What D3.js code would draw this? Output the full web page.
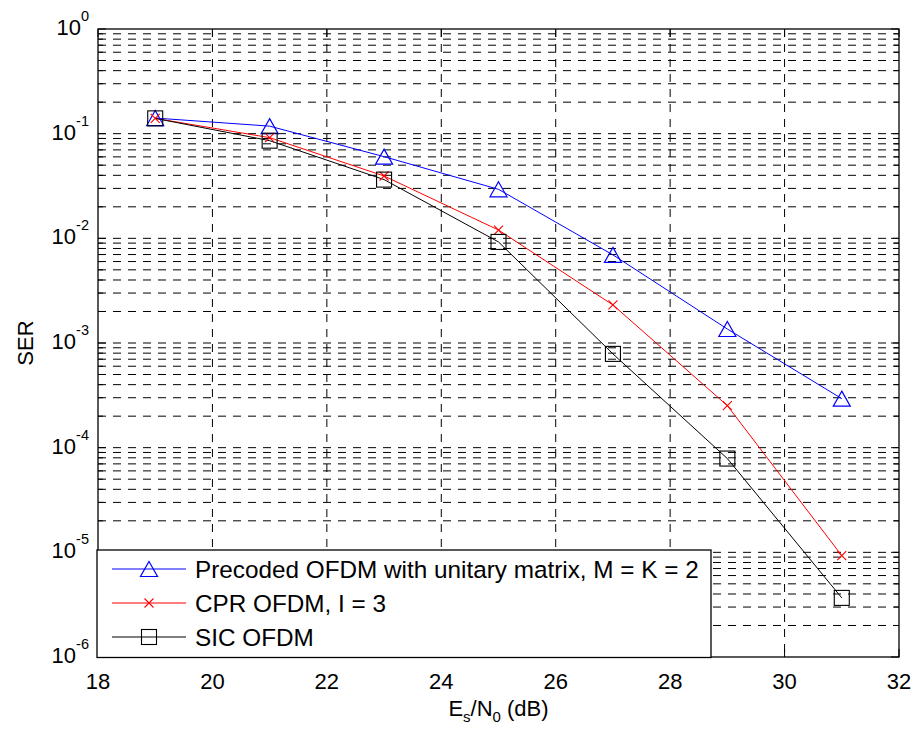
<!DOCTYPE html>
<html>
<head>
<meta charset="utf-8">
<script src="https://cdn.jsdelivr.net/npm/d3@7"></script>
<style>
  html, body { margin: 0; padding: 0; background: #fff; }
  svg { display: block; }
  text { font-family: "Liberation Sans", Arial, Helvetica, sans-serif; fill: #000; }
</style>
</head>
<body>
<svg id="chart" width="915" height="733"></svg>
<script>
// ---- data ----
const esn0 = [19, 21, 23, 25, 27, 29, 31];
const serPrecoded = [0.141, 0.118, 0.0603, 0.0294, 0.00695, 0.00136, 0.000294];
const serCPR = [0.140, 0.0916, 0.0394, 0.0120, 0.00231, 0.000252, 9.3e-6];
const serSIC = [0.140, 0.0857, 0.0364, 0.00924, 0.000787, 7.87e-5, 3.67e-6];
const seriesNames = ["Precoded OFDM with unitary matrix, M = K = 2", "CPR OFDM, I = 3", "SIC OFDM"];
const xTicks = [18, 20, 22, 24, 26, 28, 30, 32];
const yExponents = [0, -1, -2, -3, -4, -5, -6];

// ---- layout ----
const L = 98, R = 899, T = 29, B = 657;
const svg = d3.select("#chart");
const x = d3.scaleLinear().domain([18, 32]).range([L, R]);
const y = d3.scaleLog().domain([1e-6, 1]).range([B, T]);

const series = [
  { name: seriesNames[0], values: serPrecoded, color: "#0000ff", marker: "tri" },
  { name: seriesNames[1], values: serCPR, color: "#ff0000", marker: "x" },
  { name: seriesNames[2], values: serSIC, color: "#000000", marker: "sq" }
];

const yMajor = yExponents.map(e => Math.pow(10, e));
const yMinor = [];
for (let e = -6; e < 0; e++) for (let k = 2; k <= 9; k++) yMinor.push(k * Math.pow(10, e));

const dash = "8,7";
const grid = svg.append("g");
grid.selectAll("line.h").data(yMinor.concat(yMajor.filter(v => v > 1e-6 && v < 1)))
  .enter().append("line")
  .attr("x1", L).attr("x2", R)
  .attr("y1", d => y(d)).attr("y2", d => y(d))
  .attr("stroke", "#000").attr("stroke-width", 1)
  .attr("stroke-dasharray", dash);
grid.selectAll("line.v").data(xTicks.filter(v => v > 18 && v < 32))
  .enter().append("line")
  .attr("x1", d => x(d)).attr("x2", d => x(d))
  .attr("y1", T).attr("y2", B)
  .attr("stroke", "#000").attr("stroke-width", 1)
  .attr("stroke-dasharray", dash);

function drawMarker(g, type, cx, cy, color) {
  if (type === "tri") {
    const w = 8.5, h = 7.5;
    g.append("path")
      .attr("d", `M${cx},${cy - h}L${cx + w},${cy + h}L${cx - w},${cy + h}Z`)
      .attr("fill", "none").attr("stroke", color).attr("stroke-width", 1.2);
  } else if (type === "sq") {
    const s = 7.5;
    g.append("rect").attr("x", cx - s).attr("y", cy - s)
      .attr("width", 2 * s).attr("height", 2 * s)
      .attr("fill", "none").attr("stroke", color).attr("stroke-width", 1.1);
  } else {
    const s = 4.5;
    g.append("path")
      .attr("d", `M${cx - s},${cy - s}L${cx + s},${cy + s}M${cx - s},${cy + s}L${cx + s},${cy - s}`)
      .attr("stroke", color).attr("stroke-width", 1.1);
  }
}

const line = d3.line().x(d => x(d[0])).y(d => y(d[1]));
const plot = svg.append("g");
series.forEach(s => {
  const pts = esn0.map((v, i) => [v, s.values[i]]);
  plot.append("path").datum(pts).attr("d", line)
    .attr("fill", "none").attr("stroke", s.color).attr("stroke-width", 1);
});
series.forEach(s => {
  esn0.forEach((v, i) => drawMarker(plot, s.marker, x(v), y(s.values[i]), s.color));
});

const ax = svg.append("g");
ax.append("rect").attr("x", L).attr("y", T).attr("width", R - L).attr("height", B - T)
  .attr("fill", "none").attr("stroke", "#000").attr("stroke-width", 1.3);

const majLen = 8, minLen = 5;
yMajor.forEach(v => {
  ax.append("line").attr("x1", L).attr("x2", L + majLen).attr("y1", y(v)).attr("y2", y(v)).attr("stroke", "#000");
  ax.append("line").attr("x1", R).attr("x2", R - majLen).attr("y1", y(v)).attr("y2", y(v)).attr("stroke", "#000");
});
yMinor.forEach(v => {
  ax.append("line").attr("x1", L).attr("x2", L + minLen).attr("y1", y(v)).attr("y2", y(v)).attr("stroke", "#000");
  ax.append("line").attr("x1", R).attr("x2", R - minLen).attr("y1", y(v)).attr("y2", y(v)).attr("stroke", "#000");
});
xTicks.forEach(v => {
  ax.append("line").attr("x1", x(v)).attr("x2", x(v)).attr("y1", B).attr("y2", B - majLen).attr("stroke", "#000");
  ax.append("line").attr("x1", x(v)).attr("x2", x(v)).attr("y1", T).attr("y2", T + majLen).attr("stroke", "#000");
});

xTicks.forEach(v => {
  ax.append("text").attr("x", x(v)).attr("y", 689).attr("text-anchor", "middle")
    .attr("font-size", 22).text(v);
});
yExponents.forEach(e => {
  const t = ax.append("text").attr("x", 89).attr("y", y(Math.pow(10, e)) + 6)
    .attr("text-anchor", "end").attr("font-size", 22);
  t.append("tspan").text("10");
  t.append("tspan").attr("dy", -14).attr("font-size", 14.5).text(e === 0 ? "0" : "-" + Math.abs(e));
});

const xl = svg.append("text").attr("x", (L + R) / 2).attr("y", 716)
  .attr("text-anchor", "middle").attr("font-size", 22);
xl.append("tspan").text("E");
xl.append("tspan").attr("dy", 6).attr("font-size", 15).text("s");
xl.append("tspan").attr("dy", -6).text("/N");
xl.append("tspan").attr("dy", 6).attr("font-size", 15).text("0");
xl.append("tspan").attr("dy", -6).text(" (dB)");

svg.append("text").attr("transform", `translate(33,${(T + B) / 2}) rotate(-90)`)
  .attr("text-anchor", "middle").attr("font-size", 22).text("SER");

const lg = svg.append("g");
lg.append("rect").attr("x", 97).attr("y", 550).attr("width", 614).attr("height", 107.5)
  .attr("fill", "#fff").attr("stroke", "#000").attr("stroke-width", 1.3);
const rowY = [569, 603, 637];
series.forEach((s, i) => {
  lg.append("line").attr("x1", 112).attr("x2", 186).attr("y1", rowY[i]).attr("y2", rowY[i])
    .attr("stroke", s.color).attr("stroke-width", 1);
  drawMarker(lg, s.marker, 149, rowY[i], s.color);
  lg.append("text").attr("x", 195).attr("y", rowY[i] + 8.5).attr("font-size", 24.3).text(s.name);
});
</script>
</body>
</html>
